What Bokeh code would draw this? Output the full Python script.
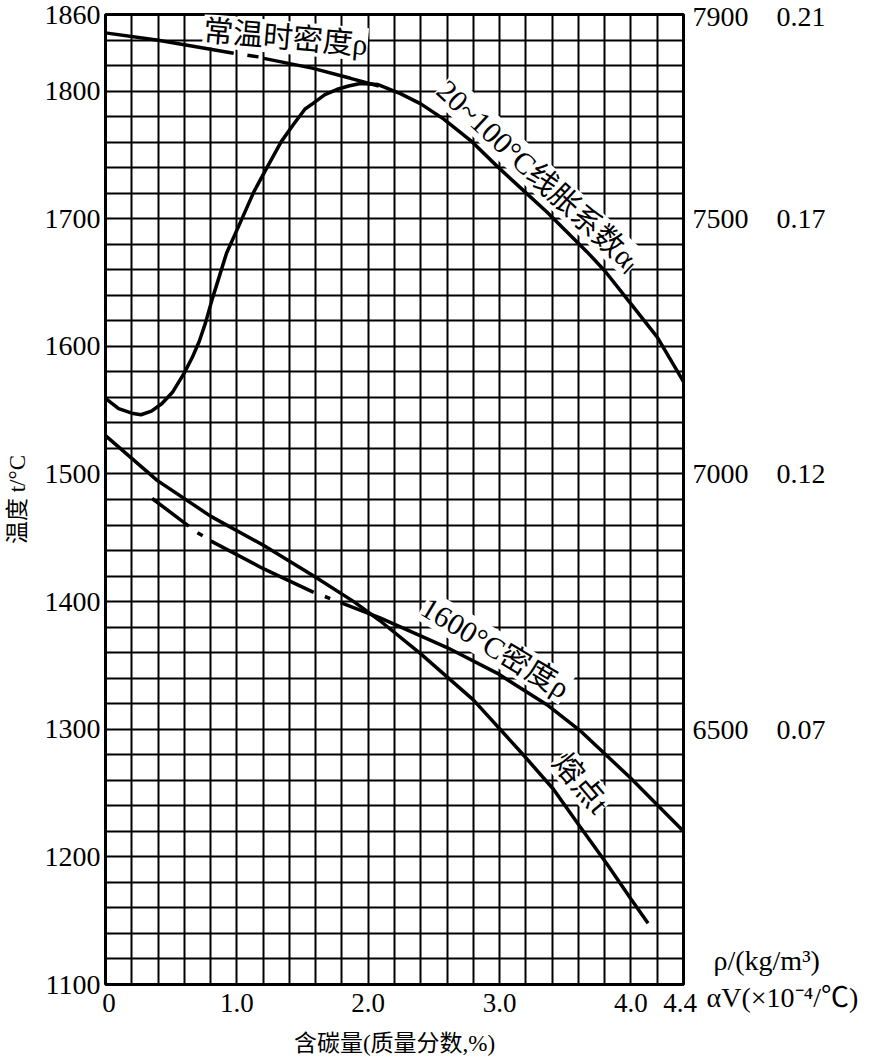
from bokeh.plotting import figure
from bokeh.models import LinearAxis, Range1d, FixedTicker, SingleIntervalTicker, Label
from bokeh.embed import file_html
from bokeh.resources import INLINE

nan = float("nan")
NB = "\u00a0"

# --- data (x = 含碳量 %, NaN = gap in the printed curve) ---
room_rho_c = [0, 0.39, 0.976, nan, 1.08, 1.165, nan, 1.205, 1.573, 1.865, 2.08]
room_rho_v = [7864, 7850, 7824, nan, 7820, 7817, nan, 7814, 7795, 7775, 7760]   # kg/m3

alpha_c = [0, 0.1, 0.2, 0.27, 0.35, 0.43, 0.51, 0.6, 0.66, 0.714, 0.76, 0.813, 0.87, 0.922,
           1.013, 1.13, 1.229, 1.338, 1.429, 1.519, 1.58, 1.67, 1.76, 1.85, 1.94, 2.07,
           2.245, 2.4, 2.575, 2.78, 2.98, 3.17, 3.36, 3.666, 3.8, 3.97, 4.2, 4.4]
alpha_v = [0.1348, 0.1328, 0.1319, 0.1316, 0.1323, 0.1338, 0.1360, 0.1398, 0.1428, 0.1460,
           0.1495, 0.1543, 0.1590, 0.1633, 0.1685, 0.1753, 0.1800, 0.1851, 0.1884, 0.1915,
           0.1926, 0.1943, 0.1953, 0.1960, 0.1965, 0.1963, 0.1945, 0.1925, 0.1895, 0.1853,
           0.1803, 0.1758, 0.1713, 0.1635, 0.1598, 0.1543, 0.1468, 0.1381]

melt_c = [0, 0.393, 0.799, 1.205, 1.585, 1.89, 2.09, 2.40, 2.80, 3.18, 3.41, 3.61, 3.82, 4.0, 4.13]
melt_t = [1530, 1495, 1467, 1444, 1420, 1400, 1385, 1359, 1323, 1280, 1253, 1224, 1194, 1167, 1148]

rho1600_c = [0.355, 0.634, nan, 0.70, 0.74, nan, 0.80, 1.205, 1.585, nan, 1.67, 1.71, nan,
             1.79, 2.09, 2.6, 2.98, 3.36, 3.61, 3.995, 4.4]
rho1600_v = [6952, 6898, nan, 6885, 6879, nan, 6869, 6814, 6768, nan, 6760, 6756, nan,
             6748, 6718, 6660, 6610, 6548, 6498, 6405, 6300]

x_ticks = [0, 1, 2, 3, 4, 4.4]
x_tick_labels = [NB + "0", "1.0", "2.0", "3.0", "4.0", "4.4" + NB]
t_ticks = [1100, 1200, 1300, 1400, 1500, 1600, 1700, 1800, 1860]
rho_ticks = [6500, 7000, 7500, 7900]
alpha_ticks = [0.07, 0.12, 0.17, 0.21]
unit_tick = 6011          # where the unit captions sit on the right scale
unit_text = NB * 3 + "ρ/(kg/m³)\n" + NB * 2 + "αV(×10⁻⁴/℃)"

SERIF = "Liberation Serif, Noto Sans CJK SC"

p = figure(width=880, height=1058, x_range=Range1d(0, 4.4), y_range=Range1d(1100, 1860),
           output_backend="svg", toolbar_location=None,
           min_border_left=105, min_border_right=197, min_border_top=14, min_border_bottom=70,
           background_fill_color="white", border_fill_color="white")
p.extra_y_ranges = {"rho": Range1d(6000, 7900), "alpha": Range1d(0.02, 0.21)}

p.outline_line_color = "black"
p.outline_line_width = 3
p.xgrid.ticker = SingleIntervalTicker(interval=0.2, num_minor_ticks=0)
p.ygrid.ticker = SingleIntervalTicker(interval=20, num_minor_ticks=0)
for g in (p.xgrid, p.ygrid):
    g.grid_line_color = "black"
    g.grid_line_width = 2
    g.grid_line_alpha = 1


def style_axis(ax, standoff, size="28px"):
    ax.axis_line_color = None
    ax.major_tick_line_color = None
    ax.minor_tick_line_color = None
    ax.major_tick_out = 0
    ax.major_tick_in = 0
    ax.major_label_standoff = standoff
    ax.major_label_text_font = SERIF
    ax.major_label_text_font_size = size
    ax.major_label_text_color = "black"
    ax.axis_label_text_color = "black"


xa = p.xaxis[0]
xa.ticker = FixedTicker(ticks=x_ticks)
xa.major_label_overrides = {k: v for k, v in zip(x_ticks, x_tick_labels)}
style_axis(xa, 3, "27px")
xa.axis_label = "含碳量(质量分数,%)"
xa.axis_label_text_font = SERIF
xa.axis_label_text_font_style = "normal"
xa.axis_label_text_font_size = "23px"
xa.axis_label_standoff = 10

ya = p.yaxis[0]
ya.ticker = FixedTicker(ticks=t_ticks)
style_axis(ya, 5)
ya.axis_label = "温度 t/°C"
ya.axis_label_text_font = SERIF
ya.axis_label_text_font_style = "normal"
ya.axis_label_text_font_size = "23px"
ya.axis_label_standoff = 12

# right scale: density (kg/m3) and expansion coefficient share one column of labels
right_labels = {r: f"{r}{NB * 4}{a:.2f}" for r, a in zip(rho_ticks, alpha_ticks)}
right_labels[unit_tick] = unit_text
rho_ax = LinearAxis(y_range_name="rho", ticker=FixedTicker(ticks=[unit_tick] + rho_ticks),
                    major_label_overrides=right_labels)
style_axis(rho_ax, 9)
p.add_layout(rho_ax, "right")

LW = 3.5
p.line(room_rho_c, room_rho_v, y_range_name="rho", line_color="black", line_width=LW, level="overlay")
p.line(alpha_c, alpha_v, y_range_name="alpha", line_color="black", line_width=LW, level="overlay")
p.line(melt_c, melt_t, line_color="black", line_width=LW, level="overlay")
p.line(rho1600_c, rho1600_v, y_range_name="rho", line_color="black", line_width=LW, level="overlay")


def curve_label(x, y, text, angle, size="30px"):
    p.add_layout(Label(x=x, y=y, text=text, angle=angle, angle_units="deg",
                       text_align="center", text_baseline="middle",
                       text_font=SERIF, text_font_size=size, text_color="black",
                       background_fill_color="white", background_fill_alpha=1.0))


curve_label(1.37, 1842, "常温时密度ρ", -5)
curve_label(3.295, 1734, "20~100°C线胀系数αₗ", -43)
curve_label(2.968, 1364, "1600°C密度ρ", -31)
curve_label(3.62, 1258, "熔点t", -50)

open("out.html", "w").write(file_html(p, INLINE))
